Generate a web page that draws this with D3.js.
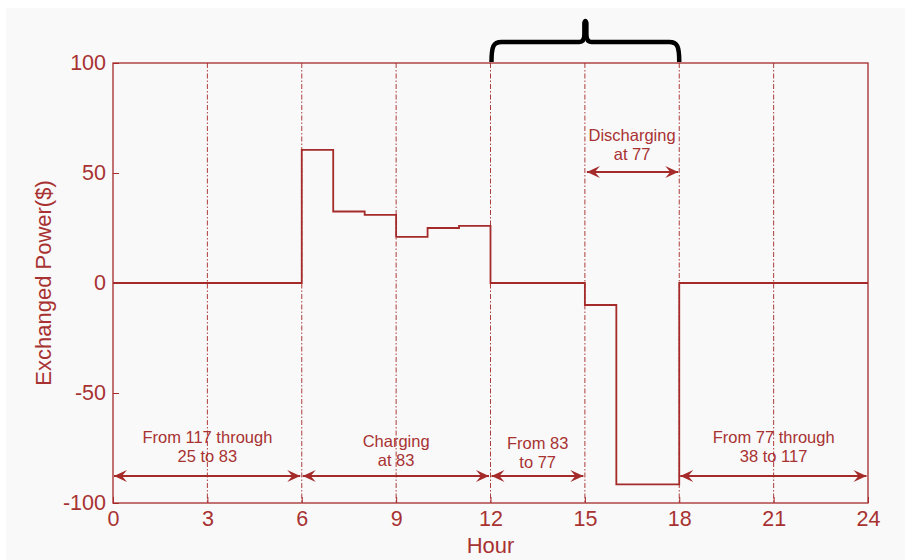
<!DOCTYPE html>
<html>
<head>
<meta charset="utf-8">
<script src="https://cdn.jsdelivr.net/npm/d3@7"></script>
<style>
  html, body { margin: 0; padding: 0; background: #ffffff; }
  svg { display: block; font-family: "Liberation Sans", Arial, sans-serif; }
</style>
</head>
<body>
<svg id="chart" width="905" height="560"></svg>
<script>
// Hourly exchanged power schedule (step values start at each hour listed)
const stepHours = [0, 6, 7, 8, 9, 10, 11, 12, 15, 16, 18, 24];
const stepPower = [0, 60.5, 32.5, 31, 21, 25, 26, 0, -10, -91.5, 0];

const xTicks = [0, 3, 6, 9, 12, 15, 18, 21, 24];
const yTicks = [-100, -50, 0, 50, 100];
const gridHours = [3, 6, 9, 12, 15, 18, 21];

// Period annotations: [startHour, endHour, line1, line2]
const periodStart = [0, 6, 12, 18];
const periodEnd = [6, 12, 15, 24];
const periodLine1 = ["From 117 through", "Charging", "From 83", "From 77 through"];
const periodLine2 = ["25 to 83", "at 83", "to 77", "38 to 117"];

const dischargeSpan = [15, 18];
const dischargeText = ["Discharging", "at 77"];
const braceSpan = [12, 18];

const red = "#a52a2a";
const textRed = "#a83232";
const svg = d3.select("#chart");

svg.append("rect").attr("x", 6).attr("y", 8).attr("width", 899).attr("height", 552).attr("fill", "#f9f9f9");

const x = d3.scaleLinear().domain([0, 24]).range([113, 868]);
const y = d3.scaleLinear().domain([-100, 100]).range([503, 63]);

// Dash-dot grid at every third hour
svg.append("g").selectAll("line").data(gridHours).join("line")
  .attr("x1", d => x(d)).attr("x2", d => x(d))
  .attr("y1", y(100)).attr("y2", y(-100))
  .attr("stroke", red).attr("stroke-width", 1)
  .attr("stroke-dasharray", "5,2,1.5,2").attr("opacity", 0.9);

// Axes (plain hyphen for negative numbers)
const fmt = d => String(d);
const xAxis = d3.axisBottom(x).tickValues(xTicks).tickSize(-6).tickPadding(10).tickFormat(fmt);
const yAxis = d3.axisLeft(y).tickValues(yTicks).tickSize(-6).tickPadding(7).tickFormat(fmt);

const gx = svg.append("g").attr("transform", `translate(0,${y(-100)})`).call(xAxis);
const gy = svg.append("g").attr("transform", `translate(${x(0)},0)`).call(yAxis);
[gx, gy].forEach(g => {
  g.select(".domain").remove();
  g.selectAll(".tick line").attr("stroke", red).attr("stroke-width", 1);
  g.selectAll(".tick text").attr("fill", textRed).attr("font-size", 21.5)
    .attr("font-family", "Liberation Sans, Arial, sans-serif");
});
gx.selectAll(".tick text").attr("dy", "0.6em");

// Plot frame
svg.append("rect")
  .attr("x", x(0)).attr("y", y(100))
  .attr("width", x(24) - x(0)).attr("height", y(-100) - y(100))
  .attr("fill", "none").attr("stroke", red).attr("stroke-width", 1.3);

// Step line
const pts = stepPower.map((v, i) => [stepHours[i], v]);
pts.push([stepHours[stepHours.length - 1], stepPower[stepPower.length - 1]]);
const line = d3.line().x(d => x(d[0])).y(d => y(d[1])).curve(d3.curveStepAfter);
svg.append("path").datum(pts)
  .attr("d", line).attr("fill", "none")
  .attr("stroke", red).attr("stroke-width", 1.8);

// Arrow markers
const defs = svg.append("defs");
defs.append("marker").attr("id", "arrowhead")
  .attr("viewBox", "-14 -7 16 14").attr("refX", 0).attr("refY", 0)
  .attr("markerWidth", 16).attr("markerHeight", 14).attr("markerUnits", "userSpaceOnUse")
  .attr("orient", "auto-start-reverse")
  .append("path").attr("d", "M0,0 L-13,-6 L-8,0 L-13,6 Z").attr("fill", red);

function doubleArrow(x1, x2, yy) {
  svg.append("line")
    .attr("x1", x1).attr("x2", x2).attr("y1", yy).attr("y2", yy)
    .attr("stroke", red).attr("stroke-width", 1.8)
    .attr("marker-start", "url(#arrowhead)").attr("marker-end", "url(#arrowhead)");
}

const arrowY = 476;
const periodBase = [443, 447, 449, 443];
periodStart.forEach((s, i) => {
  const e = periodEnd[i];
  doubleArrow(x(s) + 1, x(e) - 1.5, arrowY);
  const cx = (x(s) + x(e)) / 2;
  const t = svg.append("text").attr("text-anchor", "middle").attr("fill", textRed)
    .attr("font-size", 16.5);
  t.append("tspan").attr("x", cx).attr("y", periodBase[i]).text(periodLine1[i]);
  t.append("tspan").attr("x", cx).attr("y", periodBase[i] + 18.5).text(periodLine2[i]);
});

// Discharging annotation
doubleArrow(x(dischargeSpan[0]) + 2, x(dischargeSpan[1]) - 1, 172);
const dcx = (x(dischargeSpan[0]) + x(dischargeSpan[1])) / 2;
const dt = svg.append("text").attr("text-anchor", "middle").attr("fill", textRed).attr("font-size", 16.5);
dt.append("tspan").attr("x", dcx).attr("y", 141).text(dischargeText[0]);
dt.append("tspan").attr("x", dcx).attr("y", 159.5).text(dischargeText[1]);

// Axis titles
svg.append("text").attr("x", x(12)).attr("y", 553).attr("text-anchor", "middle")
  .attr("fill", textRed).attr("font-size", 22).text("Hour");
svg.append("text").attr("transform", `translate(51,${y(0)}) rotate(-90)`)
  .attr("text-anchor", "middle").attr("fill", textRed).attr("font-size", 22).text("Exchanged Power($)");

// Curly brace over the 12-18 h window
const bl = x(braceSpan[0]) + 1, br = x(braceSpan[1]);
const bm = (bl + br) / 2;
const by0 = 62, by1 = 42, btip = 20;
const brace = `M${bl},${by0} C${bl},${by1 + 4} ${bl + 2},${by1} ${bl + 10},${by1}
  L${bm - 6},${by1} C${bm - 2},${by1} ${bm - 1},${by1 - 3} ${bm - 1},${by1 - 8}
  L${bm - 1},${btip + 3} Q${bm},${btip - 1} ${bm + 1},${btip + 3}
  L${bm + 1},${by1 - 8} C${bm + 1},${by1 - 3} ${bm + 2},${by1} ${bm + 6},${by1}
  L${br - 10},${by1} C${br - 2},${by1} ${br},${by1 + 4} ${br},${by0}`;
svg.append("path").attr("d", brace).attr("fill", "none")
  .attr("stroke", "#000").attr("stroke-width", 4.5).attr("stroke-linejoin", "round");
</script>
</body>
</html>
